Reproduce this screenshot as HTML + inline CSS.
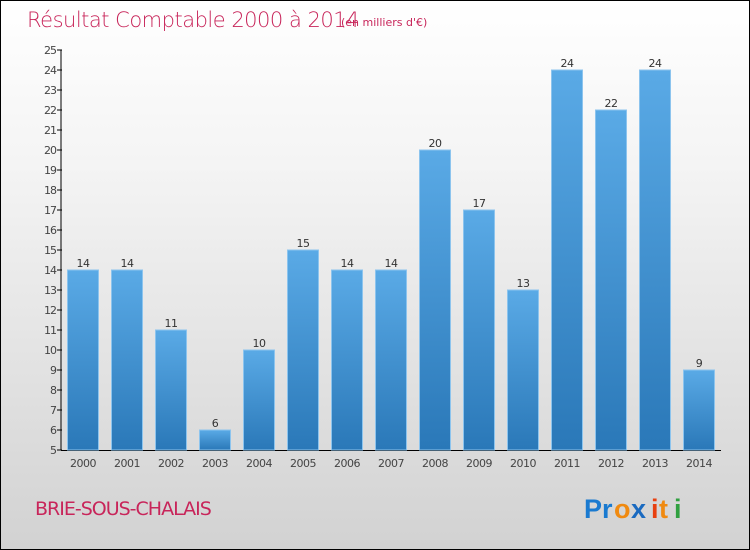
<!DOCTYPE html>
<html><head><meta charset="utf-8">
<style>
html,body{margin:0;padding:0;}
body{width:750px;height:550px;overflow:hidden;}
#wrap{position:relative;width:748px;height:548px;border:1px solid #000;background:linear-gradient(#ffffff,#f4f4f4 30%,#d2d2d2);font-family:"DejaVu Sans","Liberation Sans",sans-serif;}
svg{position:absolute;left:0;top:0;}
</style></head><body>
<div id="wrap">
<svg id="chart" width="748" height="548">
<defs>
<linearGradient id="bg" x1="0" y1="0" x2="0" y2="1">
<stop offset="0" stop-color="#5aaae6"/><stop offset="1" stop-color="#2a78b8"/>
</linearGradient>
</defs>
<text x="26" y="26" font-size="21" fill="#c8255a" font-weight="200" style="font-family:'DejaVu Sans',sans-serif;letter-spacing:-0.5px">Résultat Comptable 2000 à 2014</text>
<text x="340" y="25" font-size="11" fill="#c8255a">(en milliers d'€)</text>
<text x="34" y="514" font-size="19" fill="#c8255a" style="letter-spacing:-1px">BRIE-SOUS-CHALAIS</text>
<g font-size="27" font-weight="bold" style="font-family:'Liberation Sans',sans-serif">
<text x="583" y="517" fill="#1a7ad0">Pr</text><text x="613" y="517" fill="#f08a10">o</text><text x="630" y="517" fill="#1a6ac0">x</text><text x="650" y="517" fill="#e84010">i</text><text x="658" y="517" fill="#f08a10">t</text><text x="673" y="517" fill="#30a040">i</text>
</g>
</svg>
</div>
<script>
const years=["2000","2001","2002","2003","2004","2005","2006","2007","2008","2009","2010","2011","2012","2013","2014"];
const values=[14,14,11,6,10,15,14,14,20,17,13,24,22,24,9];
const yTicks=[5,6,7,8,9,10,11,12,13,14,15,16,17,18,19,20,21,22,23,24,25];
const svg=document.getElementById('chart');
const NS='http://www.w3.org/2000/svg';
const y0=449,yMin=5,pxPer=20;
function yS(v){return y0-(v-yMin)*pxPer;}
function xC(i){return 82+i*44;}
function mk(t,a){const e=document.createElementNS(NS,t);for(const k in a)e.setAttribute(k,a[k]);svg.appendChild(e);return e;}
const ax=mk('line',{x1:60,y1:yS(25),x2:60,y2:y0,stroke:'#000','stroke-width':1});


const xa=mk('line',{x1:60,y1:y0+0.5,x2:720,y2:y0+0.5,stroke:'#000','stroke-width':1});


yTicks.forEach(v=>{
 const tk=mk('line',{x1:56,y1:yS(v),x2:61,y2:yS(v),stroke:'#000'});
 
 
 const t=mk('text',{x:55,y:yS(v)+4,'font-size':11,fill:'#444','text-anchor':'end','letter-spacing':'-1'});
 t.textContent=v;
 
 
});
values.forEach((v,i)=>{
 const x=xC(i);
 const b=mk('rect',{x:x-15.5,y:yS(v),width:31,height:y0-yS(v),fill:'url(#bg)',stroke:'#8cc4ee','stroke-width':1});
 
 
 const l=mk('text',{x:x,y:yS(v)-3,'font-size':11,fill:'#333','text-anchor':'middle','letter-spacing':'-0.5'});
 l.textContent=v;
 
 
 const xl=mk('text',{x:x,y:466,'font-size':11,fill:'#444','text-anchor':'middle','letter-spacing':'-0.5'});
 xl.textContent=years[i];
 
 
});
</script>
</body></html>
